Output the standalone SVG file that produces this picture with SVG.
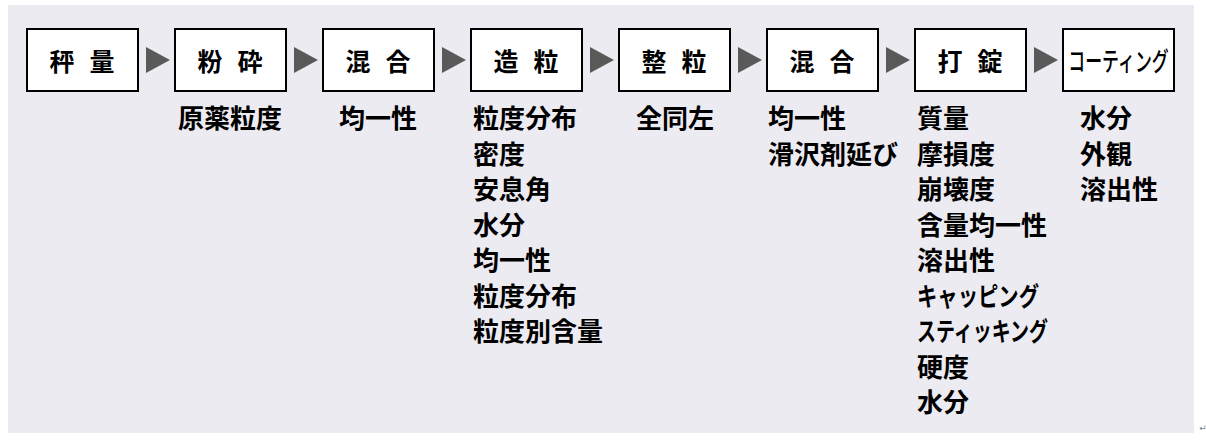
<svg xmlns="http://www.w3.org/2000/svg" width="1206" height="440" viewBox="0 0 1206 440">
<style>
.bg{fill:#EDEBF2}
.box{fill:#FFFFFF;stroke:#000000;stroke-width:2}
.arr{fill:#595959}
.bl{font-family:"Noto Sans CJK JP","Noto Sans CJK SC",sans-serif;font-size:25px;font-weight:bold;fill:#000;text-anchor:middle}
.it{font-family:"Noto Sans CJK JP","Noto Sans CJK SC",sans-serif;font-size:26px;font-weight:bold;fill:#000}
.ct{font-family:"Noto Sans CJK JP","Noto Sans CJK SC",sans-serif;font-size:26px;font-weight:500;fill:#000;text-anchor:middle}
</style>
<rect class="bg" x="8" y="5" width="1186" height="428"/>
<g id="connectors">
<polygon class="arr" points="146,47 146,73 170,60"/>
<polygon class="arr" points="294,47 294,73 318,60"/>
<polygon class="arr" points="442,47 442,73 466,60"/>
<polygon class="arr" points="590,47 590,73 614,60"/>
<polygon class="arr" points="738,47 738,73 762,60"/>
<polygon class="arr" points="886,47 886,73 910,60"/>
<polygon class="arr" points="1034,47 1034,73 1058,60"/>
</g>
<g id="n1"><rect class="box" x="27" y="29" width="111" height="62"/><text class="bl" x="62 102" y="71">秤量</text></g>
<g id="n2"><rect class="box" x="175" y="29" width="111" height="62"/><text class="bl" x="210 250" y="71">粉砕</text>
<text class="it" x="178" y="128">原薬粒度</text></g>
<g id="n3"><rect class="box" x="323" y="29" width="111" height="62"/><text class="bl" x="358 398" y="71">混合</text>
<text class="it" x="339" y="128">均一性</text></g>
<g id="n4"><rect class="box" x="471" y="29" width="111" height="62"/><text class="bl" x="506 546" y="71">造粒</text>
<text class="it" x="473" y="128">粒度分布</text>
<text class="it" x="473" y="163.5">密度</text>
<text class="it" x="473" y="199">安息角</text>
<text class="it" x="473" y="234.5">水分</text>
<text class="it" x="473" y="270">均一性</text>
<text class="it" x="473" y="305.5">粒度分布</text>
<text class="it" x="473" y="341">粒度別含量</text></g>
<g id="n5"><rect class="box" x="619" y="29" width="111" height="62"/><text class="bl" x="654 694" y="71">整粒</text>
<text class="it" x="636" y="128">全同左</text></g>
<g id="n6"><rect class="box" x="767" y="29" width="111" height="62"/><text class="bl" x="802 842" y="71">混合</text>
<text class="it" x="768" y="128">均一性</text>
<text class="it" x="768" y="163.5">滑沢剤延び</text></g>
<g id="n7"><rect class="box" x="915" y="29" width="111" height="62"/><text class="bl" x="950 990" y="71">打錠</text>
<text class="it" x="917" y="128">質量</text>
<text class="it" x="917" y="163.5">摩損度</text>
<text class="it" x="917" y="199">崩壊度</text>
<text class="it" x="917" y="234.5">含量均一性</text>
<text class="it" x="917" y="270">溶出性</text>
<text class="it" x="917" y="305.5" textLength="122" lengthAdjust="spacingAndGlyphs">キャッピング</text>
<text class="it" x="917" y="341" textLength="131" lengthAdjust="spacingAndGlyphs">スティッキング</text>
<text class="it" x="917" y="376.5">硬度</text>
<text class="it" x="917" y="412">水分</text></g>
<g id="n8"><rect class="box" x="1063" y="29" width="111" height="62"/><text class="ct" transform="translate(1118.5,71) scale(0.65,1)" x="0" y="0">コーティング</text>
<text class="it" x="1080" y="128">水分</text>
<text class="it" x="1080" y="163.5">外観</text>
<text class="it" x="1080" y="199">溶出性</text></g>
<text x="1203" y="431" font-family="DejaVu Sans, sans-serif" font-size="9" fill="#808080" text-anchor="middle">↵</text>
</svg>
